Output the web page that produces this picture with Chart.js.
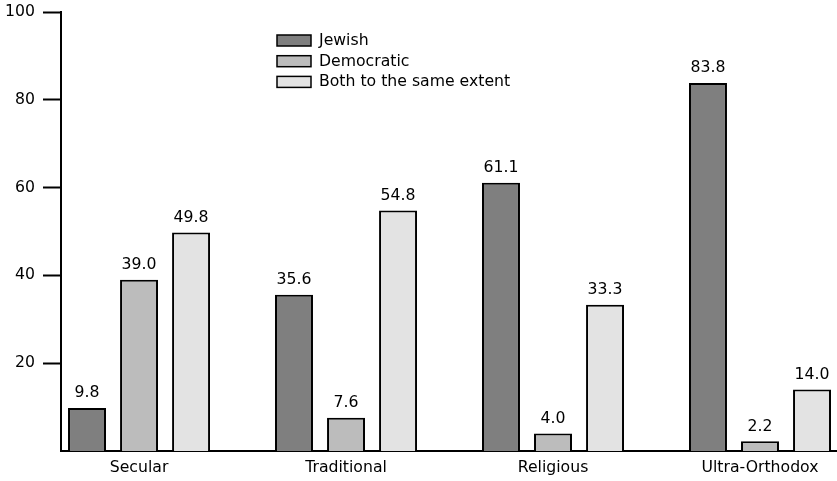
<!DOCTYPE html>
<html>
<head>
<meta charset="utf-8">
<script src="https://cdn.jsdelivr.net/npm/chart.js@4/dist/chart.umd.min.js"></script>
<style>
  html, body { margin: 0; padding: 0; background: #fff; }
  #wrap { width: 837px; height: 481px; }
</style>
</head>
<body>
<div id="wrap"><canvas id="myChart"></canvas></div>
<script>
var categories = ['Secular', 'Traditional', 'Religious', 'Ultra-Orthodox'];
var jewish = [9.8, 35.6, 61.1, 83.8];
var democratic = [39.0, 7.6, 4.0, 2.2];
var both = [49.8, 54.8, 33.3, 14.0];
var seriesNames = ['Jewish', 'Democratic', 'Both to the same extent'];
var colors = ['#7f7f7f', '#bcbcbc', '#e3e3e3'];
var yTicks = [20, 40, 60, 80, 100];

var FONT = '"DejaVu Sans", Verdana, sans-serif';
var FSIZE = 15.7;
var X_MIN = -0.377, X_MAX = 3.372;

function toPoints(arr) {
    return arr.map(function (v, i) { return { x: i, y: v }; });
}

// value labels above each bar
var valueLabels = {
    id: 'valueLabels',
    afterDatasetsDraw: function (chart) {
        var ctx = chart.ctx;
        ctx.save();
        ctx.font = FSIZE + 'px ' + FONT;
        ctx.fillStyle = '#000';
        ctx.textAlign = 'center';
        ctx.textBaseline = 'bottom';
        chart.data.datasets.forEach(function (ds, d) {
            chart.getDatasetMeta(d).data.forEach(function (bar, i) {
                ctx.fillText(ds.data[i].y.toFixed(1), bar.x, bar.y - 7);
            });
        });
        ctx.restore();
    }
};

// legend box in the upper middle
var boxLegend = {
    id: 'boxLegend',
    afterDraw: function (chart) {
        var ctx = chart.ctx;
        ctx.save();
        ctx.font = FSIZE + 'px ' + FONT;
        ctx.textBaseline = 'middle';
        chart.data.datasets.forEach(function (ds, d) {
            var top = 35 + d * 20.7;
            ctx.fillStyle = ds.backgroundColor;
            ctx.fillRect(277, top, 34, 11);
            ctx.strokeStyle = '#000';
            ctx.lineWidth = 1.5;
            ctx.strokeRect(277, top, 34, 11);
            ctx.fillStyle = '#000';
            ctx.fillText(ds.label, 319, top + 6);
        });
        ctx.restore();
    }
};

var datasets = [jewish, democratic, both].map(function (arr, i) {
    return {
        label: seriesNames[i],
        data: toPoints(arr),
        backgroundColor: colors[i],
        borderColor: '#000',
        borderWidth: 2,
        borderSkipped: 'bottom',
        categoryPercentage: 0.754,
        barPercentage: 0.73
    };
});

new Chart(document.getElementById('myChart'), {
    type: 'bar',
    data: { datasets: datasets },
    options: {
        responsive: true,
        maintainAspectRatio: false,
        animation: false,
        layout: { padding: { top: 12, right: 0, left: 0, bottom: 0 } },
        plugins: {
            legend: { display: false },
            tooltip: { enabled: false }
        },
        scales: {
            x: {
                type: 'linear',
                bounds: 'data',
                offset: false,
                min: X_MIN,
                max: X_MAX,
                grid: { display: false, offset: false },
                border: { display: true, color: '#000', width: 2 },
                afterBuildTicks: function (scale) {
                    scale.ticks = categories.map(function (c, i) { return { value: i }; });
                },
                afterFit: function (scale) {
                    scale.height = 30;
                    scale.paddingLeft = 0;
                    scale.paddingRight = 0;
                },
                ticks: {
                    color: '#000',
                    font: { family: FONT, size: FSIZE },
                    padding: 0,
                    maxRotation: 0,
                    autoSkip: false,
                    callback: function (v, i) { return categories[i]; }
                }
            },
            y: {
                min: 0,
                max: 100,
                grid: {
                    drawOnChartArea: false,
                    drawTicks: true,
                    tickLength: 18,
                    tickColor: '#000',
                    tickWidth: 2
                },
                border: { display: true, color: '#000', width: 2 },
                afterBuildTicks: function (scale) {
                    scale.ticks = yTicks.map(function (v) { return { value: v }; });
                },
                afterFit: function (scale) {
                    scale.width = 61;
                    scale.paddingTop = 0;
                    scale.paddingBottom = 0;
                },
                ticks: {
                    color: '#000',
                    font: { family: FONT, size: FSIZE },
                    padding: 8
                }
            }
        }
    },
    plugins: [valueLabels, boxLegend]
});
</script>
</body>
</html>
